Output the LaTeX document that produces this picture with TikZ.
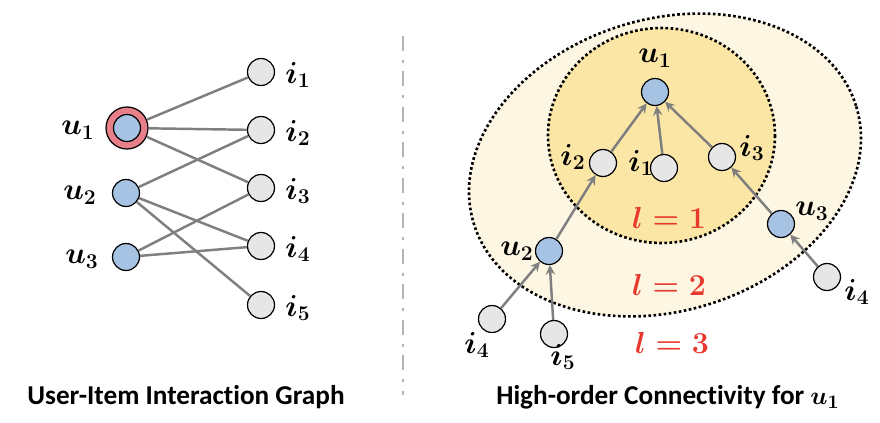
\documentclass[tikz,border=0pt]{standalone}
\usepackage{amsmath}
\usepackage{fontspec}
\setsansfont[Ligatures=NoCommon]{Carlito}
\usetikzlibrary{arrows.meta}

\definecolor{usrBlue}{HTML}{A7C3E3}
\definecolor{itmGray}{HTML}{E6E6E6}
\definecolor{ringRed}{HTML}{E8808A}
\definecolor{edgeGray}{HTML}{7F7F7F}
\definecolor{hopOne}{HTML}{FBE6A6}
\definecolor{hopTwo}{HTML}{FDF6E2}
\definecolor{lvlRed}{HTML}{E8392F}
\definecolor{sepGray}{HTML}{B4B4B4}

\begin{document}
\begin{tikzpicture}[x=0.02cm,y=-0.02cm,>=stealth,
  usr/.style={circle,draw,line width=0.7pt,fill=usrBlue,minimum size=0.54cm,inner sep=0pt},
  itm/.style={circle,draw,line width=0.7pt,fill=itmGray,minimum size=0.54cm,inner sep=0pt},
  lbl/.style={font=\fontsize{16.5}{18}\selectfont,inner sep=0pt},
  lnk/.style={edgeGray,line width=1.4pt},
  hop/.style={edgeGray,line width=1.4pt,->},
  ring/.style={line width=1.5pt,dash pattern=on 1.5pt off 1.4pt},
  lvl/.style={lvlRed,font=\fontsize{16.5}{18}\selectfont,inner sep=0pt},
  ttl/.style={font=\sffamily\bfseries\fontsize{15.5}{17}\selectfont,inner sep=0pt}]
\useasboundingbox (0,0) rectangle (880,423);

% left: user-item graph
\node[circle,draw,line width=0.7pt,fill=ringRed,minimum size=0.84cm] (rim) at (127,128) {};
\node[usr] (lu1) at (127,128) {};
\node[usr] (lu2) at (126,193) {};
\node[usr] (lu3) at (126,257) {};
\foreach \k/\y in {1/72,2/130,3/188,4/246,5/305} {
  \node[itm] (li\k) at (261,\y) {};
  \node[lbl] (lt\k) at (298,\y+3) {$\boldsymbol{i_\k}$};
}
\node[lbl] (lv1) at (78,130) {$\boldsymbol{u_1}$};
\node[lbl] (lv2) at (80,195) {$\boldsymbol{u_2}$};
\node[lbl] (lv3) at (82,259) {$\boldsymbol{u_3}$};

\draw[lnk] (rim) -- (li1);
\draw[lnk] (rim) -- (li2);
\draw[lnk] (rim) -- (li3);
\draw[lnk] (lu2) -- (li2);
\draw[lnk] (lu2) -- (li4);
\draw[lnk] (lu2) -- (li5);
\draw[lnk] (lu3) -- (li3);
\draw[lnk] (lu3) -- (li4);

\node[ttl] (lcap) at (186,397) {User-Item Interaction Graph};

% separator
\draw[sepGray,line width=1.7pt,dash pattern=on 8.5pt off 5pt on 1.7pt off 5pt] (403,36) -- (403,395);

% right: high-order connectivity
\draw[ring,fill=hopTwo] (665,165) ellipse [x radius=200,y radius=146,rotate=17];
\draw[ring,fill=hopOne] (661.5,135.5) ellipse [x radius=113.5,y radius=107.5];

\node[lvl] (lvA) at (669,218) {$\boldsymbol{l=1}$};
\node[lvl] (lvB) at (669,285) {$\boldsymbol{l=2}$};
\node[lvl] (lvC) at (672,343) {$\boldsymbol{l=3}$};

\node[lbl] (rt1) at (641,163) {$\boldsymbol{i_1}$};
\node[usr] (ru1) at (655,92) {};
\node[itm] (ri2) at (603,163) {};
\node[itm] (ri1) at (664,168) {};
\node[itm] (ri3) at (722,157) {};
\node[usr] (ru2) at (549,251) {};
\node[usr] (ru3) at (781,224) {};
\node[itm] (ri4a) at (492,319) {};
\node[itm] (ri5) at (554,334) {};
\node[itm] (ri4b) at (827,277) {};

\node[lbl] (rv1) at (655,58) {$\boldsymbol{u_1}$};
\node[lbl] (rt2) at (573,157) {$\boldsymbol{i_2}$};
\node[lbl] (rt3) at (752,148) {$\boldsymbol{i_3}$};
\node[lbl] (rv3) at (812,211) {$\boldsymbol{u_3}$};
\node[lbl] (rv2) at (517,251) {$\boldsymbol{u_2}$};
\node[lbl] (rt4a) at (477,345) {$\boldsymbol{i_4}$};
\node[lbl] (rt5) at (563,357) {$\boldsymbol{i_5}$};
\node[lbl] (rt4b) at (857,292) {$\boldsymbol{i_4}$};

\draw[hop] (ri2) -- (ru1);
\draw[hop] (ri1) -- (ru1);
\draw[hop] (ri3) -- (ru1);
\draw[hop] (ru2) -- (ri2);
\draw[hop] (ru3) -- (ri3);
\draw[hop] (ri4a) -- (ru2);
\draw[hop] (ri5) -- (ru2);
\draw[hop] (ri4b) -- (ru3);

\node[ttl] (rcap) at (668,397) {High-order Connectivity for $\boldsymbol{u_1}$};
\end{tikzpicture}
\end{document}
